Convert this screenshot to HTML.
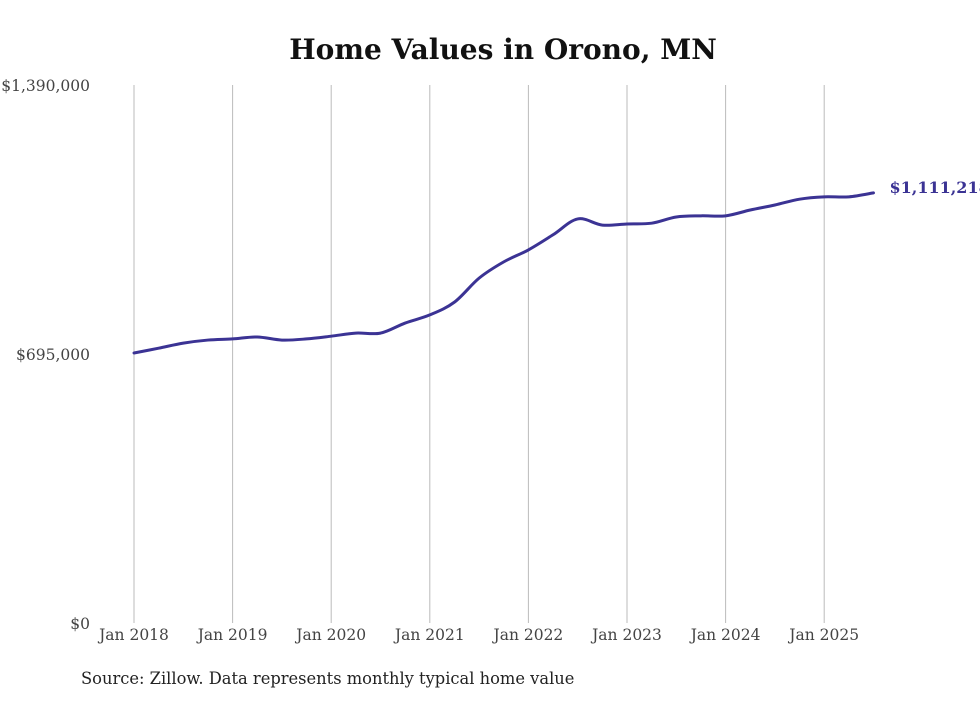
<!DOCTYPE html>
<html><head><meta charset="utf-8"><style>
body{margin:0;background:#fff;}
svg text{font-family:"DejaVu Serif","Liberation Serif",serif;}
</style></head><body>
<svg id="chart" width="980" height="699" viewBox="0 0 980 699" xmlns="http://www.w3.org/2000/svg">
<rect width="980" height="699" fill="#fff"/>
<text x="503" y="59" text-anchor="middle" font-size="28" font-weight="bold" fill="#111">Home Values in Orono, MN</text>
<g id="grid"></g><g id="yaxis"></g><g id="xaxis"></g><g id="series"></g>
<text x="81" y="684" font-size="16.3" fill="#222">Source: Zillow. Data represents monthly typical home value</text>
</svg>
<script>
const dates=[2018,2018.25,2018.5,2018.75,2019,2019.25,2019.5,2019.75,2020,2020.25,2020.5,2020.75,2021,2021.25,2021.5,2021.75,2022,2022.25,2022.5,2022.75,2023,2023.25,2023.5,2023.75,2024,2024.25,2024.5,2024.75,2025,2025.25,2025.5];
const values=[697600,710000,723000,731000,734000,739000,731000,734000,741000,749000,749000,775000,796000,829000,891000,933000,964000,1003000,1044000,1028000,1031000,1033000,1049000,1052000,1052000,1067000,1080000,1095000,1101000,1101000,1111218];
const yTicks=[0,695000,1390000];
const yTickLabels=["$0","$695,000","$1,390,000"];
const xTicks=[2018,2019,2020,2021,2022,2023,2024,2025];
const xTickLabels=["Jan 2018","Jan 2019","Jan 2020","Jan 2021","Jan 2022","Jan 2023","Jan 2024","Jan 2025"];
const lastLabel="$1,111,218";
const NS="http://www.w3.org/2000/svg";
const X=d=>134+(d-2018)*98.6;
const Y=v=>623-v/1390000*538;
function mk(tag,attrs,parent){const e=document.createElementNS(NS,tag);for(const k in attrs)e.setAttribute(k,attrs[k]);document.getElementById(parent).appendChild(e);return e;}
xTicks.forEach((t,i)=>{
  const l=mk('line',{x1:X(t),x2:X(t),y1:85,y2:623,stroke:'#bbb','stroke-width':1},'grid');
  
  
  const tx=mk('text',{x:X(t),y:640,'text-anchor':'middle','font-size':15.5,fill:'#444'},'xaxis');
  tx.textContent=xTickLabels[i];
  
  
});
yTicks.forEach((t,i)=>{
  const tx=mk('text',{x:90,y:Y(t)+6,'text-anchor':'end','font-size':15.5,fill:'#444'},'yaxis');
  tx.textContent=yTickLabels[i];
  
  
});
const pts=dates.map((d,i)=>[X(d),Y(values[i])]);
let p='M'+pts[0][0]+','+pts[0][1];
for(let i=0;i<pts.length-1;i++){
  const p0=pts[i-1]||pts[i],p1=pts[i],p2=pts[i+1],p3=pts[i+2]||p2;
  const c1=[p1[0]+(p2[0]-p0[0])/6,p1[1]+(p2[1]-p0[1])/6],c2=[p2[0]-(p3[0]-p1[0])/6,p2[1]-(p3[1]-p1[1])/6];
  p+=' C'+c1+' '+c2+' '+p2;
}
const line=mk('path',{d:p,fill:'none',stroke:'#3b3394','stroke-width':3,'stroke-linejoin':'round','stroke-linecap':'round'},'series');


const last=pts[pts.length-1];
const lt=mk('text',{x:last[0]+16,y:last[1]+0,'font-size':16,'font-weight':'bold',fill:'#3b3394'},'series');
lt.textContent=lastLabel;


</script>
</body></html>
